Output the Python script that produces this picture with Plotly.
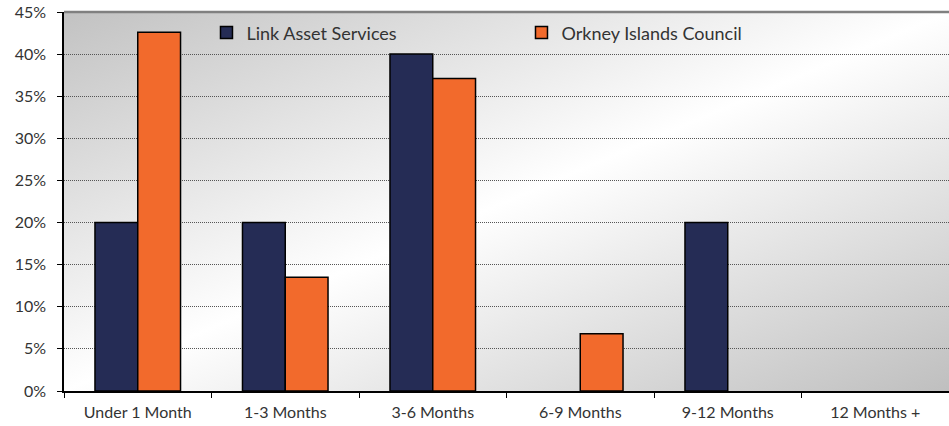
import base64
import plotly.graph_objects as go

categories = ["Under 1 Month", "1-3 Months", "3-6 Months", "6-9 Months", "9-12 Months", "12 Months +"]
link_values = [20, 20, 40, 0, 20, 0]
orkney_values = [42.6, 13.5, 37.1, 6.8, 0, 0]
series_names = ["Link Asset Services", "Orkney Islands Council"]
y_ticks = [0, 5, 10, 15, 20, 25, 30, 35, 40, 45]

FONT = "Lato"
TXT = "#333333"

svg = (
    '<svg xmlns="http://www.w3.org/2000/svg" width="100" height="100" preserveAspectRatio="none">'
    '<defs><linearGradient id="g" x1="0" y1="0" x2="1" y2="1">'
    '<stop offset="0" stop-color="#c2c2c2"/>'
    '<stop offset="0.5" stop-color="#ffffff"/>'
    '<stop offset="1" stop-color="#bfbfbf"/>'
    '</linearGradient></defs>'
    '<rect x="0" y="0" width="100" height="100" fill="url(#g)"/></svg>'
)
bg_uri = "data:image/svg+xml;base64," + base64.b64encode(svg.encode()).decode()


def hide_zero(vals):
    return [v if v != 0 else None for v in vals]


fig = go.Figure()
fig.add_trace(go.Bar(x=categories, y=hide_zero(link_values), name=series_names[0],
                     marker=dict(color="#252c55", line=dict(color="black", width=1.5))))
fig.add_trace(go.Bar(x=categories, y=hide_zero(orkney_values), name=series_names[1],
                     marker=dict(color="#f26a2c", line=dict(color="black", width=1.5))))

fig.update_layout(
    width=949, height=426,
    margin=dict(l=64, r=0, t=12, b=35),
    paper_bgcolor="white",
    plot_bgcolor="rgba(0,0,0,0)",
    barmode="group", bargap=0.42, bargroupgap=0,
    font=dict(family=FONT, size=16, color=TXT),
    showlegend=True,
    legend=dict(orientation="h", x=0.161, y=0.945, xanchor="left", yanchor="middle",
                bgcolor="rgba(0,0,0,0)", font=dict(size=18, color=TXT),
                entrywidth=270, entrywidthmode="pixels", itemwidth=30,
                traceorder="normal"),
    images=[dict(source=bg_uri, xref="paper", yref="paper", x=0, y=1,
                 sizex=1, sizey=1, sizing="stretch", layer="below", xanchor="left", yanchor="top")],
    xaxis=dict(showline=True, linecolor="black", linewidth=1.5, ticks="outside",
               tickson="boundaries", ticklen=5, tickcolor="black", tickwidth=1,
               ticklabelstandoff=6,
               tickfont=dict(size=16, color=TXT), showgrid=False),
    yaxis=dict(range=[0, 45], tickvals=y_ticks, ticktext=[f"{v}%" for v in y_ticks],
               showline=True, linecolor="black", linewidth=1.5, ticks="outside",
               ticklen=5, tickcolor="black", showgrid=True, gridcolor="#555555",
               griddash="1px,1px", gridwidth=1, zeroline=False, ticklabelstandoff=8,
               tickfont=dict(size=16, color=TXT)),
    shapes=[dict(type="line", xref="paper", yref="paper", x0=0, x1=1, y0=1, y1=1,
                 line=dict(color="#808080", width=2.5))],
)

fig.write_html("out.html", config={"displayModeBar": False},
               post_script="document.body.style.margin='0';document.body.style.overflow='hidden';")
